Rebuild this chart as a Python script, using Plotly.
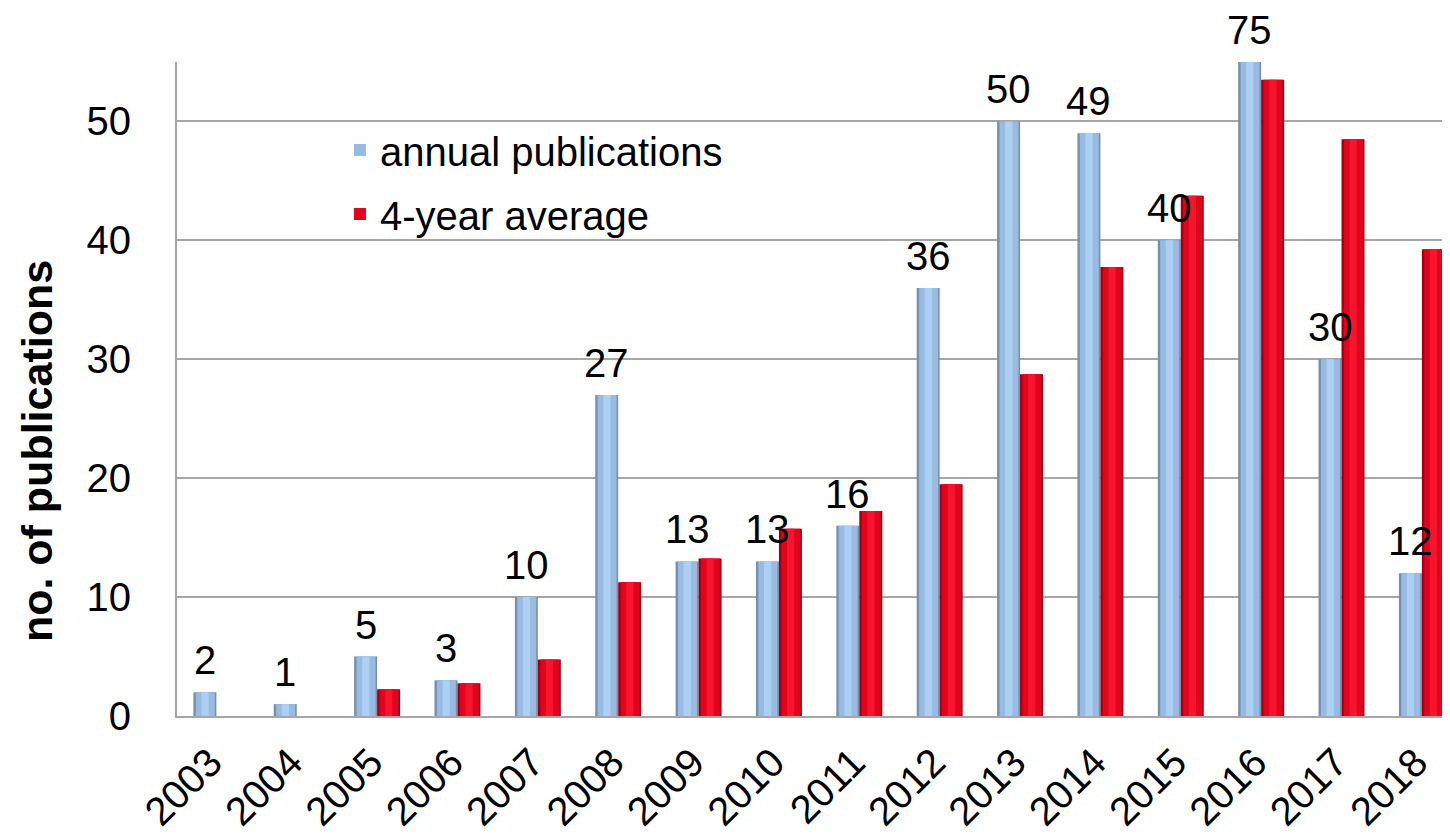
import plotly.graph_objects as go

years = ["2003", "2004", "2005", "2006", "2007", "2008", "2009", "2010",
         "2011", "2012", "2013", "2014", "2015", "2016", "2017", "2018"]
annual = [2, 1, 5, 3, 10, 27, 13, 13, 16, 36, 50, 49, 40, 75, 30, 12]
avg4 = [None, None, 2.25, 2.75, 4.75, 11.25, 13.25, 15.75, 17.25, 19.5,
        28.75, 37.75, 43.75, 53.5, 48.5, 39.25]
y_max = 55

FONT = "Arial, Liberation Sans, sans-serif"
BW = 0.286  # bar width in category units

fig = go.Figure()


def add_shaded(values, name, group, x0, colors):
    # colors: (edge, body, highlight) -> layered strips give a cylinder look
    edge, body, hl = colors
    layers = [
        (x0, BW, edge, False),
        (x0 + 0.03, BW - 0.05, body, True),
        (x0 + 0.10, 0.09, hl, False),
    ]
    for off, w, c, show in layers:
        fig.add_trace(go.Bar(
            x=years, y=values, name=name, legendgroup=group,
            showlegend=show, offset=off, width=w,
            marker=dict(color=c, line=dict(width=0)),
        ))


add_shaded(annual, "annual publications", "a", -BW,
           ("#7890B0", "#98BBE1", "#ACD0F4"))
add_shaded(avg4, "4-year average", "b", 0.0,
           ("#A00016", "#E0041C", "#F7142C"))

for i, v in enumerate(annual):
    fig.add_annotation(
        x=i, y=min(v, y_max), text=str(v), showarrow=False,
        xref="x", yref="y", xanchor="center", yanchor="bottom",
        xshift=-11.5, yshift=8,
        font=dict(family=FONT, size=40, color="#000000"),
    )

fig.add_annotation(
    x=-0.11, y=0.405, xref="paper", yref="paper",
    text="<b>no. of publications</b>", textangle=-90, showarrow=False,
    xanchor="center", yanchor="middle",
    font=dict(family=FONT, size=43, color="#000000"),
)

fig.update_layout(
    width=1442, height=827,
    margin=dict(l=169, r=0, t=54, b=119, autoexpand=False),
    paper_bgcolor="white", plot_bgcolor="white",
    barmode="overlay",
    font=dict(family=FONT, size=40, color="#000000"),
    showlegend=True,
    legend=dict(x=0.128, y=0.915, xanchor="left", yanchor="top",
                bgcolor="rgba(0,0,0,0)", font=dict(family=FONT, size=40),
                traceorder="grouped", tracegroupgap=9),
    xaxis=dict(
        type="category", range=[-0.49, 15.35], tickangle=-45,
        showgrid=False, showline=True, linecolor="#A6A6A6", linewidth=2,
        ticks="", ticklabelstandoff=5, ticklabelshift=-6,
        tickfont=dict(family=FONT, size=40, color="#000000"),
        automargin=False,
    ),
    yaxis=dict(
        range=[0, y_max], tickvals=[0, 10, 20, 30, 40, 50],
        showgrid=True, gridcolor="#A6A6A6", gridwidth=2,
        showline=True, linecolor="#A6A6A6", linewidth=2,
        ticks="", ticklabelstandoff=36,
        tickfont=dict(family=FONT, size=40, color="#000000"),
        zeroline=False, automargin=False,
    ),
)

fig.write_html("out.html")
